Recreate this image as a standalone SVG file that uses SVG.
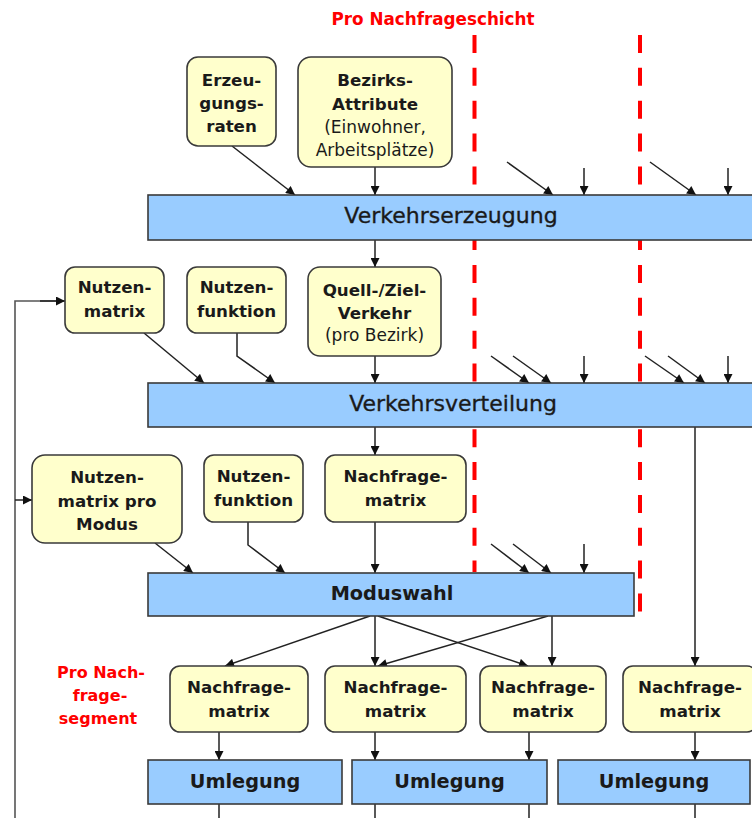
<svg xmlns="http://www.w3.org/2000/svg" width="752" height="818" viewBox="0 0 752 818">
<style>
.box{fill:#FFFFCC;stroke:#3a3a3a;stroke-width:1.6}
.bar{fill:#99CCFF;stroke:#3a3a3a;stroke-width:1.6}
.b{font-family:"DejaVu Sans",sans-serif;font-weight:bold;font-size:16.7px;fill:#1a1a1a;text-anchor:middle}
.n{font-family:"DejaVu Sans",sans-serif;font-size:17px;fill:#1a1a1a;text-anchor:middle}
.big{font-family:"DejaVu Sans",sans-serif;font-size:22px;fill:#1a1a1a;stroke:#1a1a1a;stroke-width:0.35;text-anchor:middle}
.bigb{font-family:"DejaVu Sans",sans-serif;font-weight:bold;font-size:19.3px;fill:#1a1a1a;text-anchor:middle}
.red{font-family:"DejaVu Sans",sans-serif;font-weight:bold;fill:#FF0000;text-anchor:middle}
.c{fill:none;stroke:#222;stroke-width:1.5}
.ca{fill:none;stroke:#222;stroke-width:1.5;marker-end:url(#ah)}
.g{fill:none;stroke:#555;stroke-width:1.6}
.dash{fill:none;stroke:#FF0000;stroke-width:4;stroke-dasharray:18 14.85}
</style>
<defs>
<marker id="ah" viewBox="0 0 10 10" refX="10" refY="5" markerWidth="10" markerHeight="9" markerUnits="userSpaceOnUse" orient="auto">
<path d="M0,0 L10,5 L0,10 z" fill="#111"/>
</marker>
</defs>
<rect width="752" height="818" fill="#fff"/>

<g id="dashed-lines">
<line class="dash" x1="474.5" y1="35" x2="474.5" y2="572"/>
<line class="dash" x1="640" y1="35" x2="640" y2="612"/>
</g>

<text id="label-schicht" class="red" x="433" y="25" font-size="16.8">Pro Nachfrageschicht</text>
<g id="label-segment">
<text class="red" x="101" y="678" font-size="16">Pro Nach-</text>
<text class="red" x="100" y="701" font-size="16">frage-</text>
<text class="red" x="98" y="724" font-size="16">segment</text>
</g>

<g id="connectors">
<line class="ca" x1="232" y1="146" x2="295" y2="195"/>
<line class="ca" x1="375" y1="167" x2="375" y2="195"/>
<line class="ca" x1="507" y1="162" x2="553" y2="195"/>
<line class="ca" x1="584" y1="168" x2="584" y2="195"/>
<line class="ca" x1="650" y1="162" x2="696" y2="195"/>
<line class="ca" x1="728" y1="168" x2="728" y2="195"/>
<line class="ca" x1="375" y1="240" x2="375" y2="267"/>

<line class="ca" x1="144" y1="333" x2="204" y2="383"/>
<polyline class="ca" points="237,333 237,356 275,383"/>
<line class="ca" x1="375" y1="356" x2="375" y2="383"/>
<line class="ca" x1="491" y1="356" x2="529" y2="383"/>
<line class="ca" x1="513" y1="356" x2="551" y2="383"/>
<line class="ca" x1="584" y1="356" x2="584" y2="383"/>
<line class="ca" x1="645" y1="356" x2="684" y2="383"/>
<line class="ca" x1="668" y1="356" x2="705" y2="383"/>
<line class="ca" x1="728" y1="356" x2="728" y2="383"/>
<line class="ca" x1="375" y1="427" x2="375" y2="455"/>
<line class="ca" x1="695" y1="427" x2="695" y2="666"/>

<line class="ca" x1="155" y1="543" x2="193" y2="573"/>
<polyline class="ca" points="248,522 248,545 285,573"/>
<line class="ca" x1="375" y1="522" x2="375" y2="573"/>
<line class="ca" x1="491" y1="544" x2="529" y2="573"/>
<line class="ca" x1="513" y1="544" x2="551" y2="573"/>
<line class="ca" x1="584" y1="544" x2="584" y2="573"/>

<line class="ca" x1="370" y1="616" x2="225" y2="666"/>
<line class="ca" x1="375" y1="616" x2="375" y2="666"/>
<line class="ca" x1="378" y1="616" x2="528" y2="666"/>
<line class="ca" x1="548" y1="616" x2="378" y2="666"/>
<line class="ca" x1="552" y1="616" x2="552" y2="666"/>

<line class="ca" x1="219" y1="732" x2="219" y2="760"/>
<line class="ca" x1="375" y1="732" x2="375" y2="760"/>
<line class="ca" x1="529" y1="732" x2="529" y2="760"/>
<line class="ca" x1="695" y1="732" x2="695" y2="760"/>
<line class="c" x1="219" y1="804" x2="219" y2="818"/>
<line class="c" x1="375" y1="804" x2="375" y2="818"/>
<line class="c" x1="529" y1="804" x2="529" y2="818"/>
<line class="c" x1="695" y1="804" x2="695" y2="818"/>

<polyline class="g" points="15,818 15,301 56,301"/>
<line class="ca" x1="40" y1="301" x2="65" y2="301"/>
<line class="ca" x1="15" y1="500" x2="32" y2="500"/>
</g>

<g id="erzeugungsraten">
<rect class="box" x="187" y="57" width="89" height="89" rx="11"/>
<text class="b" x="231.5" y="86">Erzeu-</text>
<text class="b" x="231.5" y="109">gungs-</text>
<text class="b" x="231.5" y="132">raten</text>
</g>
<g id="bezirks-attribute">
<rect class="box" x="298" y="57" width="154" height="110" rx="13"/>
<text class="b" x="375" y="86">Bezirks-</text>
<text class="b" x="375" y="110">Attribute</text>
<text class="n" x="375" y="133">(Einwohner,</text>
<text class="n" x="375" y="156">Arbeitsplätze)</text>
</g>
<g id="verkehrserzeugung">
<rect class="bar" x="148" y="195" width="612" height="45"/>
<text class="big" x="451" y="223">Verkehrserzeugung</text>
</g>

<g id="nutzenmatrix">
<rect class="box" x="65" y="267" width="99" height="66" rx="10"/>
<text class="b" x="114.5" y="293">Nutzen-</text>
<text class="b" x="114.5" y="317">matrix</text>
</g>
<g id="nutzenfunktion-1">
<rect class="box" x="187" y="267" width="99" height="66" rx="10"/>
<text class="b" x="236.5" y="293">Nutzen-</text>
<text class="b" x="236.5" y="317">funktion</text>
</g>
<g id="quell-ziel-verkehr">
<rect class="box" x="308" y="267" width="133" height="89" rx="12"/>
<text class="b" x="374.5" y="296">Quell-/Ziel-</text>
<text class="b" x="374.5" y="319">Verkehr</text>
<text class="n" x="374.5" y="341">(pro Bezirk)</text>
</g>
<g id="verkehrsverteilung">
<rect class="bar" x="148" y="383" width="612" height="44"/>
<text class="big" x="453" y="411">Verkehrsverteilung</text>
</g>

<g id="nutzenmatrix-pro-modus">
<rect class="box" x="32" y="455" width="150" height="88" rx="13"/>
<text class="b" x="107" y="483">Nutzen-</text>
<text class="b" x="107" y="507">matrix pro</text>
<text class="b" x="107" y="530">Modus</text>
</g>
<g id="nutzenfunktion-2">
<rect class="box" x="204" y="455" width="99" height="67" rx="10"/>
<text class="b" x="253.5" y="482">Nutzen-</text>
<text class="b" x="253.5" y="506">funktion</text>
</g>
<g id="nachfragematrix-0">
<rect class="box" x="325" y="455" width="141" height="67" rx="10"/>
<text class="b" x="395.5" y="482">Nachfrage-</text>
<text class="b" x="395.5" y="506">matrix</text>
</g>
<g id="moduswahl">
<rect class="bar" x="148" y="573" width="486" height="43"/>
<text class="bigb" x="392" y="600">Moduswahl</text>
</g>

<g id="nachfragematrix-1">
<rect class="box" x="170" y="666" width="138" height="66" rx="10"/>
<text class="b" x="239" y="693">Nachfrage-</text>
<text class="b" x="239" y="717">matrix</text>
</g>
<g id="nachfragematrix-2">
<rect class="box" x="325" y="666" width="141" height="66" rx="10"/>
<text class="b" x="395.5" y="693">Nachfrage-</text>
<text class="b" x="395.5" y="717">matrix</text>
</g>
<g id="nachfragematrix-3">
<rect class="box" x="480" y="666" width="126" height="66" rx="10"/>
<text class="b" x="543" y="693">Nachfrage-</text>
<text class="b" x="543" y="717">matrix</text>
</g>
<g id="nachfragematrix-4">
<rect class="box" x="623" y="666" width="134" height="66" rx="10"/>
<text class="b" x="690" y="693">Nachfrage-</text>
<text class="b" x="690" y="717">matrix</text>
</g>

<g id="umlegung-1">
<rect class="bar" x="148" y="760" width="194" height="44"/>
<text class="bigb" x="245" y="788">Umlegung</text>
</g>
<g id="umlegung-2">
<rect class="bar" x="352" y="760" width="195" height="44"/>
<text class="bigb" x="449.5" y="788">Umlegung</text>
</g>
<g id="umlegung-3">
<rect class="bar" x="558" y="760" width="192" height="44"/>
<text class="bigb" x="654" y="788">Umlegung</text>
</g>
</svg>
